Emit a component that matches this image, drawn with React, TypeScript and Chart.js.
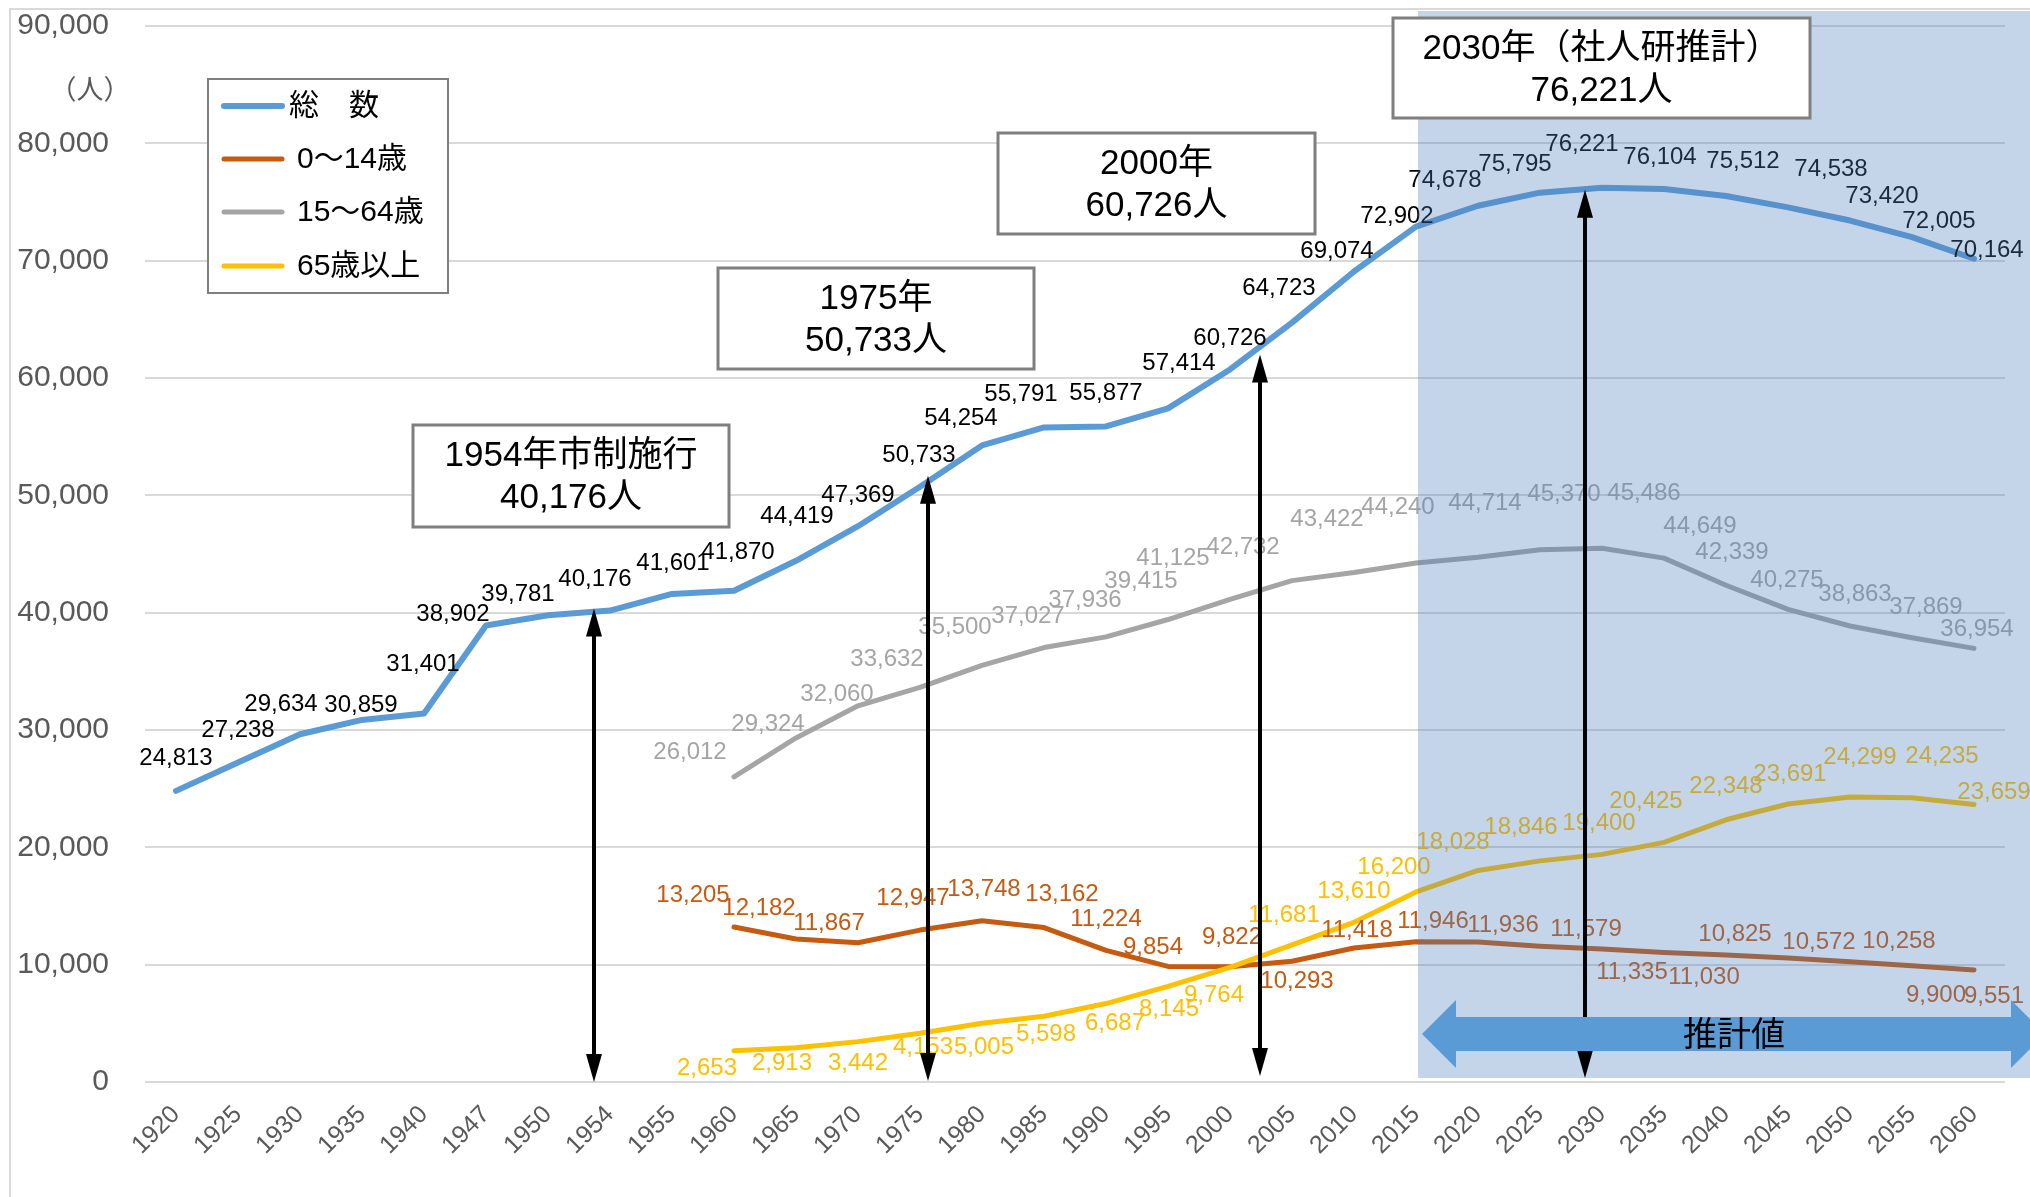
import React, { useEffect, useRef } from 'react';
import { Chart, registerables } from 'chart.js';

Chart.register(...registerables);

const N = null;

const years = ['1920','1925','1930','1935','1940','1947','1950','1954','1955','1960','1965','1970','1975','1980','1985','1990','1995','2000','2005','2010','2015','2020','2025','2030','2035','2040','2045','2050','2055','2060'];

const total = [24813,27238,29634,30859,31401,38902,39781,40176,41601,41870,44419,47369,50733,54254,55791,55877,57414,60726,64723,69074,72902,74678,75795,76221,76104,75512,74538,73420,72005,70164];
const age0to14 = [N,N,N,N,N,N,N,N,N,13205,12182,11867,12947,13748,13162,11224,9854,9822,10293,11418,11946,11936,11579,11335,11030,10825,10572,10258,9900,9551];
const age15to64 = [N,N,N,N,N,N,N,N,N,26012,29324,32060,33632,35500,37027,37936,39415,41125,42732,43422,44240,44714,45370,45486,44649,42339,40275,38863,37869,36954];
const age65plus = [N,N,N,N,N,N,N,N,N,2653,2913,3442,4153,5005,5598,6687,8145,9764,11681,13610,16200,18028,18846,19400,20425,22348,23691,24299,24235,23659];

const seriesNames = ['総\u3000数', '0～14歳', '15～64歳', '65歳以上'];
const yTickValues = [0, 10000, 20000, 30000, 40000, 50000, 60000, 70000, 80000, 90000];

// label nudges (pixels) relative to each point
const totalLabelOff = [[0,-34],[0,-34],[-19,-32],[-1,-17],[-1,-51],[-33,-13],[-30,-23],[-15,-33],[1,-33],[4,-40],[1,-46],[0,-33],[-1,-33],[-21,-29],[-23,-35],[0,-35],[11,-47],[0,-33],[-13,-36],[-17,-22],[-19,-12],[-33,-27],[-25,-30],[-20,-45],[-4,-34],[17,-37],[43,-40],[32,-26],[27,-18],[13,-10]];
const childLabelOff = [N,N,N,N,N,N,N,N,N,[-41,-34],[-37,-33],[-29,-21],[-7,-34],[2,-33],[18,-35],[0,-33],[-15,-21],[2,-31],[5,18],[3,-20],[17,-22],[25,-19],[46,-19],[30,21],[40,23],[9,-23],[31,-18],[49,-22],[24,28],[20,24]];
const workLabelOff = [N,N,N,N,N,N,N,N,N,[-44,-26],[-28,-16],[-21,-13],[-33,-30],[-27,-40],[-16,-33],[-21,-39],[-27,-40],[-57,-43],[-49,-35],[-27,-55],[-18,-58],[7,-56],[24,-57],[42,-57],[36,-34],[6,-35],[-1,-31],[5,-34],[14,-32],[3,-21]];
const elderLabelOff = [N,N,N,N,N,N,N,N,N,[-27,16],[-14,14],[0,20],[3,12],[2,22],[2,16],[9,18],[1,21],[-16,26],[-8,-32],[0,-33],[-22,-27],[-25,-30],[-19,-35],[-3,-33],[-18,-43],[0,-35],[2,-32],[10,-42],[30,-43],[20,-14]];

const COLORS = ['#5b9bd5', '#c55a11', '#a5a5a5', '#ffc000'];
const LABEL_COLORS = ['#000000', '#c55a11', '#a5a5a5', '#ffc000'];
const FONT = '"Liberation Sans", Arial, "Noto Sans CJK JP", sans-serif';

const fmt = (v: number) => v.toLocaleString('en-US');

const arrowMarks = [
  { year: '1954', value: 40176, dx: -16, dyTop: -2, gapBottom: 0 },
  { year: '1975', value: 50733, dx: 8, dyTop: -11, gapBottom: 1 },
  { year: '2000', value: 60726, dx: 30, dyTop: -15, gapBottom: 6 },
  { year: '2030', value: 76221, dx: -17, dyTop: 2, gapBottom: 4 },
];

const boxes = [
  { x: 413, y: 425, w: 316, h: 102, lines: ['1954年市制施行', '40,176人'] },
  { x: 718, y: 268, w: 316, h: 101, lines: ['1975年', '50,733人'] },
  { x: 998, y: 133, w: 317, h: 101, lines: ['2000年', '60,726人'] },
  { x: 1393, y: 18, w: 417, h: 100, lines: ['2030年（社人研推計）', '76,221人'] },
];

const projectionStart = '2015';

function drawVArrow(ctx: CanvasRenderingContext2D, x: number, yTop: number, yBot: number) {
  const hh = 28, hw = 8;
  ctx.save();
  ctx.strokeStyle = '#000';
  ctx.fillStyle = '#000';
  ctx.lineWidth = 4;
  ctx.beginPath();
  ctx.moveTo(x, yTop + hh - 2);
  ctx.lineTo(x, yBot - hh + 2);
  ctx.stroke();
  ctx.beginPath();
  ctx.moveTo(x, yTop);
  ctx.lineTo(x - hw, yTop + hh);
  ctx.lineTo(x + hw, yTop + hh);
  ctx.closePath();
  ctx.fill();
  ctx.beginPath();
  ctx.moveTo(x, yBot);
  ctx.lineTo(x - hw, yBot - hh);
  ctx.lineTo(x + hw, yBot - hh);
  ctx.closePath();
  ctx.fill();
  ctx.restore();
}

const zeroPad = (s: any) => {
  s.paddingLeft = 0;
  s.paddingRight = 0;
  s.paddingTop = 0;
  s.paddingBottom = 0;
};

const customPlugin = {
  id: 'customDraw',
  afterDatasetsDraw(chart: any) {
    const ctx: CanvasRenderingContext2D = chart.ctx;
    const xs = chart.scales.x;
    const ys = chart.scales.y;
    const all = [
      { data: total, off: totalLabelOff, color: LABEL_COLORS[0] },
      { data: age0to14, off: childLabelOff, color: LABEL_COLORS[1] },
      { data: age15to64, off: workLabelOff, color: LABEL_COLORS[2] },
      { data: age65plus, off: elderLabelOff, color: LABEL_COLORS[3] },
    ];
    ctx.save();
    ctx.font = `24px ${FONT}`;
    ctx.textAlign = 'center';
    ctx.textBaseline = 'middle';
    all.forEach((s) => {
      ctx.fillStyle = s.color;
      s.data.forEach((v: any, i: number) => {
        if (v == null) return;
        const o: any = s.off[i] || [0, -34];
        const px = xs.getPixelForValue(i);
        const py = ys.getPixelForValue(v);
        ctx.fillText(fmt(v), px + o[0], py + o[1] + 2);
      });
    });
    // projection shading
    const x0 = xs.getPixelForValue(years.indexOf(projectionStart)) + 2;
    const yb = ys.getPixelForValue(0) - 4;
    ctx.fillStyle = 'rgba(79,129,189,0.33)';
    ctx.fillRect(x0, 11, chart.width - x0, yb - 11);
    ctx.restore();
  },
  afterDraw(chart: any) {
    const ctx: CanvasRenderingContext2D = chart.ctx;
    const xs = chart.scales.x;
    const ys = chart.scales.y;
    ctx.save();
    // outer border
    ctx.strokeStyle = '#d9d9d9';
    ctx.lineWidth = 2;
    ctx.strokeRect(10, 9, 3000, 3000);
    // unit label
    ctx.fillStyle = '#595959';
    ctx.font = `27px ${FONT}`;
    ctx.textAlign = 'center';
    ctx.textBaseline = 'middle';
    ctx.fillText('（人）', 90, 92);

    // vertical arrows
    const y0 = ys.getPixelForValue(0);
    arrowMarks.forEach((a) => {
      const i = years.indexOf(a.year);
      const x = xs.getPixelForValue(i) + a.dx;
      const yt = ys.getPixelForValue(a.value) + a.dyTop;
      drawVArrow(ctx, x, yt, y0 - a.gapBottom);
    });

    // projection double arrow
    const lx = xs.getPixelForValue(years.indexOf(projectionStart)) + 6;
    const cy = 1034;
    const headW = 34, headH = 34, shaftH = 17;
    const rTip = chart.width + 15;
    ctx.fillStyle = '#5b9bd5';
    ctx.beginPath();
    ctx.moveTo(lx, cy);
    ctx.lineTo(lx + headW, cy - headH);
    ctx.lineTo(lx + headW, cy - shaftH);
    ctx.lineTo(rTip - headW, cy - shaftH);
    ctx.lineTo(rTip - headW, cy - headH);
    ctx.lineTo(rTip, cy);
    ctx.lineTo(rTip - headW, cy + headH);
    ctx.lineTo(rTip - headW, cy + shaftH);
    ctx.lineTo(lx + headW, cy + shaftH);
    ctx.lineTo(lx + headW, cy + headH);
    ctx.closePath();
    ctx.fill();
    ctx.fillStyle = '#000';
    ctx.font = `34px ${FONT}`;
    ctx.textAlign = 'center';
    ctx.textBaseline = 'middle';
    ctx.fillText('推計値', 1734, cy + 3);

    // annotation boxes
    boxes.forEach((b) => {
      ctx.fillStyle = '#ffffff';
      ctx.fillRect(b.x, b.y, b.w, b.h);
      ctx.strokeStyle = '#7f7f7f';
      ctx.lineWidth = 3;
      ctx.strokeRect(b.x, b.y, b.w, b.h);
      ctx.fillStyle = '#000';
      ctx.font = `35px ${FONT}`;
      ctx.textAlign = 'center';
      ctx.textBaseline = 'middle';
      ctx.fillText(b.lines[0], b.x + b.w / 2, b.y + 31);
      ctx.fillText(b.lines[1], b.x + b.w / 2, b.y + 73);
    });

    // legend
    ctx.fillStyle = '#ffffff';
    ctx.fillRect(208, 79, 240, 214);
    ctx.strokeStyle = '#7f7f7f';
    ctx.lineWidth = 2;
    ctx.strokeRect(208, 79, 240, 214);
    const rows = [106, 159, 212, 266];
    seriesNames.forEach((name, k) => {
      ctx.strokeStyle = COLORS[k];
      ctx.lineWidth = k === 0 ? 6 : 5;
      ctx.lineCap = 'round';
      ctx.beginPath();
      ctx.moveTo(224, rows[k]);
      ctx.lineTo(282, rows[k]);
      ctx.stroke();
      ctx.fillStyle = '#000';
      ctx.font = `30px ${FONT}`;
      ctx.textAlign = 'left';
      ctx.textBaseline = 'middle';
      ctx.fillText(name, k === 0 ? 289 : 297, rows[k] + 1);
    });
    ctx.restore();
  },
};

export default function App() {
  const ref = useRef<HTMLCanvasElement | null>(null);
  useEffect(() => {
    document.body.style.margin = '0';
    const canvas = ref.current;
    if (!canvas) return;
    const mk = (label: string, data: any[], color: string, width: number, order: number) => ({
      label, data, borderColor: color, backgroundColor: color, borderWidth: width,
      pointRadius: 0, tension: 0, spanGaps: false, order,
      borderJoinStyle: 'round', borderCapStyle: 'round', fill: false,
    });
    const chart = new Chart(canvas, {
      type: 'line',
      data: {
        labels: years,
        datasets: [
          mk(seriesNames[0], total, COLORS[0], 6, 0),
          mk(seriesNames[1], age0to14, COLORS[1], 5, 2),
          mk(seriesNames[2], age15to64, COLORS[2], 5, 3),
          mk(seriesNames[3], age65plus, COLORS[3], 5, 1),
        ] as any,
      },
      options: {
        responsive: false,
        animation: false,
        devicePixelRatio: 1,
        layout: { padding: { left: 0, right: 25, top: 26, bottom: 0 } },
        plugins: { legend: { display: false }, tooltip: { enabled: false } },
        scales: {
          x: {
            offset: true,
            grid: { display: false, offset: true },
            border: { display: false },
            ticks: {
              color: '#595959',
              font: { size: 25, family: FONT },
              minRotation: 45,
              maxRotation: 45,
              autoSkip: false,
              padding: 10,
            },
            afterFit: (s: any) => { s.height = 115; zeroPad(s); },
          },
          y: {
            min: 0,
            max: 90000,
            grid: { color: '#d9d9d9', lineWidth: 2, drawTicks: false },
            border: { display: false },
            afterBuildTicks: (s: any) => { s.ticks = yTickValues.map((v) => ({ value: v })); },
            ticks: {
              color: '#595959',
              font: { size: 30, family: FONT },
              padding: 36,
              callback: (v: any) => fmt(Number(v)),
            },
            afterFit: (s: any) => { s.width = 145; zeroPad(s); },
          },
        },
      } as any,
      plugins: [customPlugin],
    });
    return () => chart.destroy();
  }, []);
  return <canvas ref={ref} width={2030} height={1197} style={{ display: 'block' }} />;
}
